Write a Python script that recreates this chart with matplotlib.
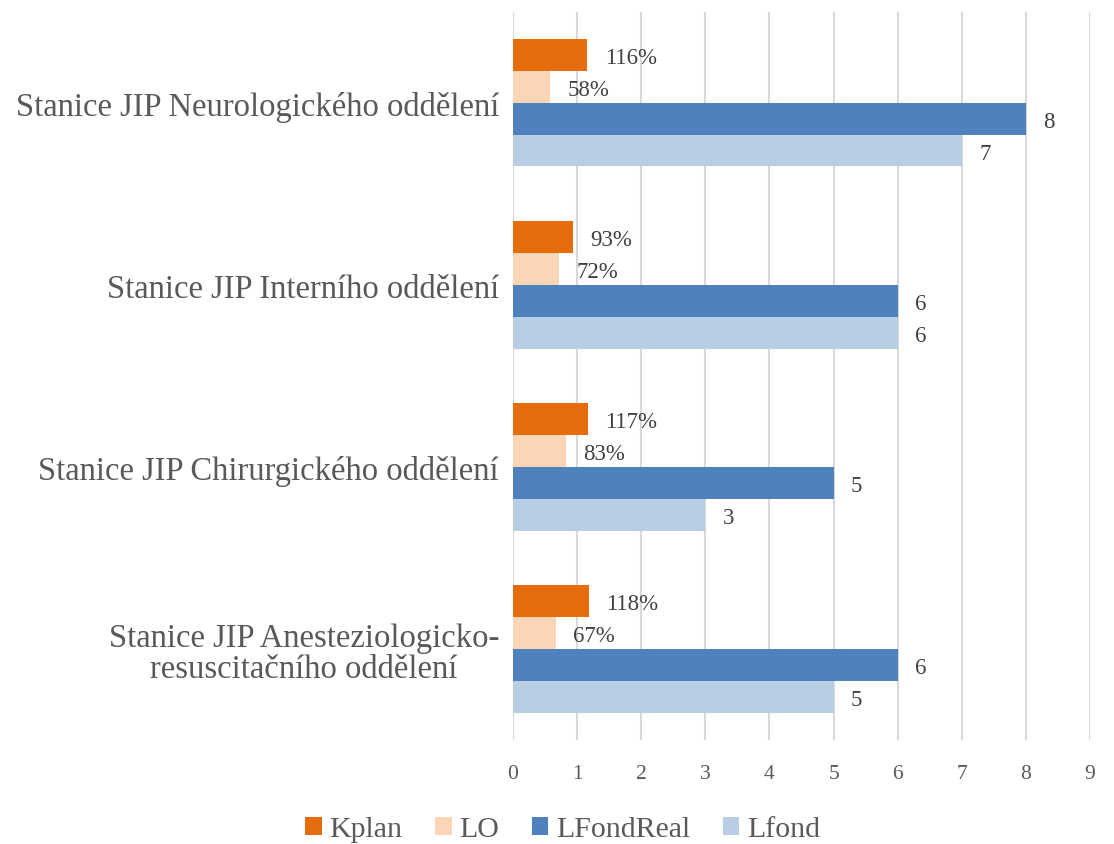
import numpy as np
import matplotlib.pyplot as plt

plt.rcParams['font.family'] = ['Liberation Serif', 'DejaVu Serif']

stanice = [
    "Stanice JIP Neurologického oddělení",
    "Stanice JIP Interního oddělení",
    "Stanice JIP Chirurgického oddělení",
    "Stanice JIP Anesteziologicko-\nresuscitačního oddělení",
]
kplan = [1.16, 0.93, 1.17, 1.18]
lo = [0.58, 0.72, 0.83, 0.67]
lfond_real = [8, 6, 5, 6]
lfond = [7, 6, 3, 5]

serie = [
    ("Kplan", kplan, "#E46C0A", "pct"),
    ("LO", lo, "#FBD5B5", "pct"),
    ("LFondReal", lfond_real, "#4F81BD", "num"),
    ("Lfond", lfond, "#B9CDE5", "num"),
]

text_col = "#595959"
fig = plt.figure(figsize=(11.14, 8.45), dpi=100)
ax = fig.add_axes([0.4605, 0.123, 0.518, 0.862])

n = len(stanice)
y = np.arange(n)[::-1].astype(float)
h = 0.175

for i, (name, vals, col, fmt) in enumerate(serie):
    pos = y + (1.5 - i) * h
    ax.barh(pos, vals, height=h, color=col, label=name, zorder=3)
    for p, v in zip(pos, vals):
        txt = f"{v * 100:.0f}%" if fmt == "pct" else f"{v:g}"
        ax.annotate(txt, (v, p), xytext=(12.5, -2), textcoords="offset points",
                    va="center", ha="left", fontsize=16.5, color="#404040")

ax.set_xlim(0, 9)
ax.set_ylim(-0.5, n - 0.5)
ax.set_xticks(range(10))
ax.set_yticks(y)
ax.set_yticklabels(stanice, fontsize=23.5, color=text_col,
                   multialignment="center", linespacing=1.05)
ax.tick_params(axis="x", labelsize=15.5, colors=text_col, length=0, pad=17)
ax.tick_params(axis="y", length=0, pad=10)
ax.grid(axis="x", color="#D9D9D9", linewidth=1.5, zorder=0)
for s in ax.spines.values():
    s.set_visible(False)

leg = fig.legend(loc="lower center", bbox_to_anchor=(0.505, -0.03), ncol=4, frameon=False,
                 fontsize=21.5, handlelength=0.55, handleheight=0.55, handletextpad=0.25,
                 columnspacing=1.1)
for t in leg.get_texts():
    t.set_color(text_col)

fig.savefig("out.png", dpi=100)
